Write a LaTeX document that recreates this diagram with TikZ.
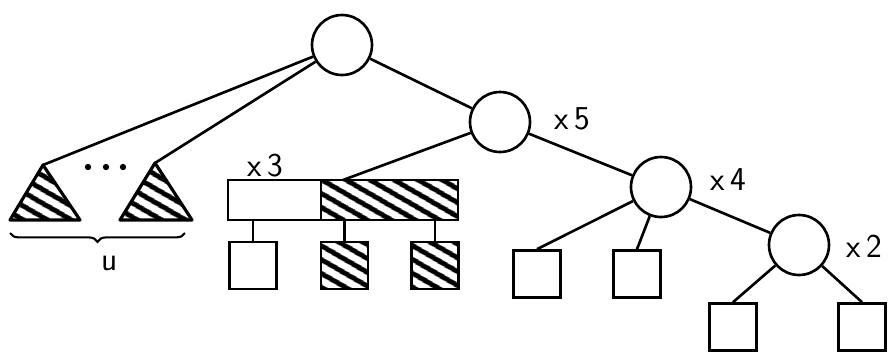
\documentclass[tikz,border=0pt]{standalone}
\usepackage{tikz}
\usetikzlibrary{patterns.meta,decorations.pathreplacing,positioning}

\begin{document}
\begin{tikzpicture}[
  x=0.02cm, y=-0.02cm,
  line width=1.5pt,
  vertex/.style={circle, draw, minimum size=1.2cm, inner sep=0pt},
  leaf/.style={draw, minimum size=0.94cm, inner sep=0pt},
  hatch/.style={pattern={Lines[angle=-30,distance=6.5pt,line width=3pt]}},
  hatchleaf/.style={leaf, hatch},
  cell/.style={draw, minimum height=0.8cm, inner sep=0pt, outer sep=0pt},
  tag/.style={font=\sffamily\fontsize{19}{19}\selectfont}
]
\useasboundingbox (0,0) rectangle (889,352);

% inner nodes
\node[vertex] (root) at (342,45) {};
\node[vertex] (x5) at (500,122) {};
\node[vertex] (x4) at (661,187) {};
\node[vertex] (x2) at (799,245) {};
\node[tag] (tx5) at (572,119) {x\,5};
\node[tag] (tx4) at (728,180) {x\,4};
\node[tag] (tx2) at (864,246) {x\,2};

% subtrees on the left
\coordinate (t1) at (43,165);
\coordinate (t2) at (155,163);
\draw[hatch, line width=1.8pt, line join=round] (t1) -- (80,220) -- (10,220) -- cycle;
\draw[hatch, line width=1.8pt, line join=round] (t2) -- (192,220) -- (120,220) -- cycle;
\foreach \px in {88,106,123}
  \fill (\px,167) circle (1.8pt);
\draw[decorate, decoration={brace, mirror, amplitude=5pt}, line width=1.2pt]
  (10,233) -- (185,233);
\node[tag] (lu) at (110,263) {u};

% split node x3
\node[cell, minimum width=1.86cm] (wcell) at (274.5,200) {};
\node[cell, hatch, minimum width=2.74cm, right=0pt of wcell] (hcell) {};
\node[tag] (tx3) at (265,166) {x\,3};
\node[leaf] (s1) at (253,265.5) {};
\node[hatchleaf] (s2) at (344.5,265.5) {};
\node[hatchleaf] (s3) at (435,265.5) {};

% leaves
\node[leaf] (l4a) at (537,274) {};
\node[leaf] (l4b) at (637,274) {};
\node[leaf] (l2a) at (733,327) {};
\node[leaf] (l2b) at (862,327) {};

% edges
\draw (root) -- (t1);
\draw (root) -- (t2);
\draw (root) -- (x5);
\draw (x5) -- ([xshift=0.44cm]hcell.north west);
\draw (x5) -- (x4);
\draw (x4) -- (x2);
\draw (x4) -- (l4a.north);
\draw (x4) -- (l4b.north);
\draw (x2) -- (l2a.north);
\draw (x2) -- (l2b.north);
\draw (s1.north) -- (s1.north |- wcell.south);
\draw (s2.north) -- (s2.north |- hcell.south);
\draw (s3.north) -- (s3.north |- hcell.south);
\end{tikzpicture}
\end{document}
